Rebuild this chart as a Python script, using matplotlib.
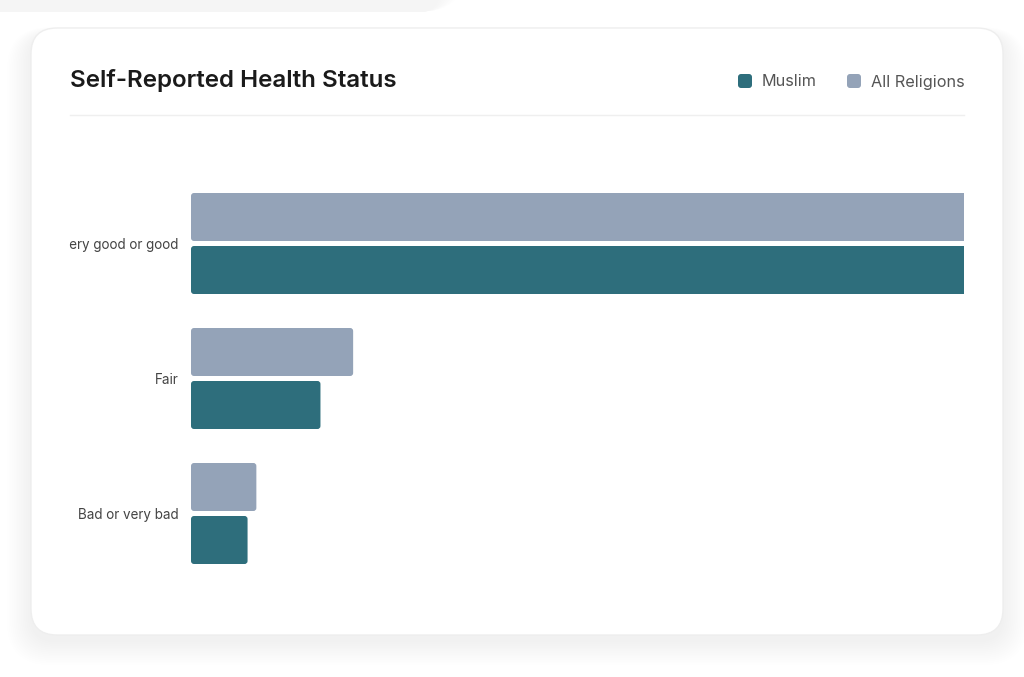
import matplotlib
matplotlib.use("Agg")
import matplotlib.pyplot as plt
from matplotlib.patches import FancyBboxPatch
from matplotlib.transforms import Bbox, TransformedBbox

categories = ["Very good or good", "Fair", "Bad or very bad"]
muslim = [85.0, 10.3, 4.5]
all_religions = [81.9, 12.9, 5.2]
series_names = ["Muslim", "All Religions"]
colors = {"Muslim": "#2e6e7c", "All Religions": "#94a3b8"}
xmax = 61.5

W, H = 1024, 677
plt.rcParams["font.family"] = ["Inter", "DejaVu Sans"]
fig = plt.figure(figsize=(W / 100, H / 100), dpi=100)
fig.patch.set_facecolor("white")

# background layer in pixel coords
bg = fig.add_axes([0, 0, 1, 1])
bg.set_xlim(0, W)
bg.set_ylim(H, 0)
bg.axis("off")

# soft shadows
for i in range(14):
    g = 2 + i * 2.5
    bg.add_patch(FancyBboxPatch((31 - g * 0.7, 34 - g * 0.2), 972 + g * 1.4, 607 + g * 0.9,
                                boxstyle="round,pad=0,rounding_size=%f" % (26 + g * 0.5),
                                fc="black", ec="none", alpha=0.0055, zorder=1))
for i in range(10):
    g = i * 3
    bg.add_patch(FancyBboxPatch((-20 - g, -40 - g), 460 + 2 * g, 52 + g,
                                boxstyle="round,pad=0,rounding_size=%f" % (20 + g),
                                fc="black", ec="none", alpha=0.004, zorder=1))
bg.add_patch(FancyBboxPatch((31, 28), 972, 607, boxstyle="round,pad=0,rounding_size=26",
                            fc="white", ec="#eeeeee", lw=1, zorder=2))

bg.text(70, 81, "Self-Reported Health Status", fontsize=17.4, fontweight="semibold",
        color="#1a1a1a", va="center", ha="left", zorder=3)
bg.plot([70, 964], [115, 115], color="#efefef", lw=1, zorder=3)

# legend
leg_x = [738, 847]
for name, lx in zip(series_names, leg_x):
    bg.add_patch(FancyBboxPatch((lx, 74), 14, 14, boxstyle="round,pad=0,rounding_size=3",
                                fc=colors[name], ec="none", zorder=3))
    bg.text(lx + 24, 82, name, fontsize=11.7, color="#555555", va="center", ha="left", zorder=3)

# main chart
ax = fig.add_axes([191 / W, (H - 581) / H, 773 / W, 405 / H])
ax.set_facecolor("none")
ypos = list(range(len(categories)))
off = 26.5 / 135
h = 48 / 135
b1 = ax.barh([y - off for y in ypos], all_religions, height=h, color=colors["All Religions"])
b2 = ax.barh([y + off for y in ypos], muslim, height=h, color=colors["Muslim"])
ax.set_xlim(0, xmax)
ax.set_ylim(2.5, -0.5)

# swap plain bars for rounded ones
px_x = 773 / xmax
px_y = 135
for bars in (b1, b2):
    for r in bars:
        p = FancyBboxPatch((r.get_x(), r.get_y()), r.get_width(), r.get_height(),
                           boxstyle="round,pad=0,rounding_size=%f" % (3 / px_x),
                           mutation_aspect=px_x / px_y,
                           fc=r.get_facecolor(), ec="none")
        ax.add_patch(p)
        r.remove()

ax.set_yticks(ypos)
ax.set_yticklabels(categories, fontsize=9.7, color="#444444")
ax.tick_params(axis="y", length=0, pad=9)
ax.set_xticks([])
for s in ax.spines.values():
    s.set_visible(False)

clip = TransformedBbox(Bbox([[69 / W, 0], [1, 1]]), fig.transFigure)
for t in ax.get_yticklabels():
    t.set_clip_box(clip)
    t.set_clip_on(True)

fig.savefig("out.png", dpi=100)
